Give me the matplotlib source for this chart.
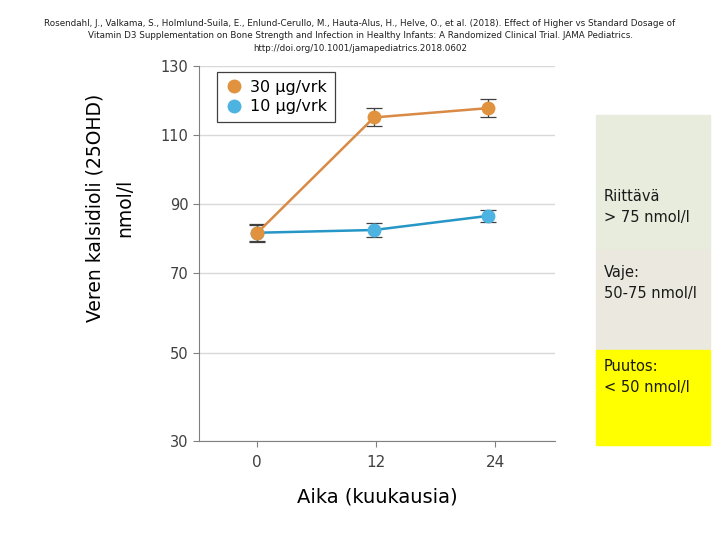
import numpy as np
import matplotlib
matplotlib.use("Agg")
import matplotlib.pyplot as plt
from matplotlib.patches import Rectangle
from matplotlib.lines import Line2D

# Data
months = [0, 11.8, 23.3]
dose30 = [81.5, 115.1, 117.8]
dose30_err = [2.5, 2.6, 2.5]
dose10 = [81.7, 82.5, 86.6]
dose10_err = [2.5, 1.9, 1.8]
series_labels = ["30 µg/vrk", "10 µg/vrk"]
yticks = [30, 50, 70, 90, 110, 130]
xticks = [0, 12, 24]

# Piecewise y-axis (lower part of the original chart is stretched)
scale_vals = [30, 50, 70, 130]
scale_pos = [0, 87.4, 167.4, 374.0]

def fwd(v):
    return np.interp(v, scale_vals, scale_pos)

def inv(p):
    return np.interp(p, scale_pos, scale_vals)

fig = plt.figure(figsize=(7.2, 5.4), dpi=100)
ax = fig.add_axes([199 / 720, 1 - 441 / 540, 356 / 720, 375 / 540])
ax.set_yscale("function", functions=(fwd, inv))
ax.set_ylim(30, 130.3)
ax.set_xlim(-5.8, 30)

orange = "#e0923f"
orange_line = "#d98a45"
blue = "#4db3e0"
blue_line = "#2596c6"

ax.errorbar(months, dose10, yerr=dose10_err, color=blue_line, lw=1.8,
            marker="o", ms=9, mfc=blue, mec=blue, ecolor="#404040",
            elinewidth=0.9, capsize=6, capthick=0.9, zorder=3)
ax.errorbar(months, dose30, yerr=dose30_err, color=orange_line, lw=1.8,
            marker="o", ms=9, mfc=orange, mec=orange, ecolor="#404040",
            elinewidth=0.9, capsize=6, capthick=0.9, zorder=4)

ax.set_yticks(yticks)
ax.set_xticks(xticks)
ax.grid(axis="y", color="#d9d9d9", lw=1)
ax.set_axisbelow(True)
for s in ["top", "right"]:
    ax.spines[s].set_visible(False)
ax.spines["left"].set_color("#808080")
ax.spines["bottom"].set_color("#808080")
ax.tick_params(axis="both", colors="#808080", labelcolor="#404040", length=4)
ax.tick_params(axis="y", labelsize=10.5)
ax.tick_params(axis="x", labelsize=11, pad=6)

handles = [Line2D([], [], ls="none", marker="o", ms=9, color=orange),
           Line2D([], [], ls="none", marker="o", ms=9, color=blue)]
leg = ax.legend(handles, series_labels, loc="upper left", bbox_to_anchor=(0.05, 0.985),
                borderaxespad=0, fancybox=False, framealpha=1, edgecolor="#404040",
                fontsize=11.5, handletextpad=0.4, borderpad=0.5, labelspacing=0.3,
                handlelength=1.2)
leg.get_frame().set_linewidth(0.9)

ax.set_xlabel("Aika (kuukausia)", fontsize=14, labelpad=13)

fig.text(95 / 720, 1 - 208 / 540, "Veren kalsidioli (25OHD)", rotation=90,
         ha="center", va="center", fontsize=13.5)
fig.text(125 / 720, 1 - 208 / 540, "nmol/l", rotation=90,
         ha="center", va="center", fontsize=13.5)

# Right-hand reference boxes
boxes = [(115, 250, "#e8ecdc"), (250, 350, "#ebe9df"), (350, 445, "#ffff00")]
for top, bot, col in boxes:
    fig.patches.append(Rectangle((596 / 720, 1 - bot / 540), 114 / 720, (bot - top) / 540,
                                 transform=fig.transFigure, color=col, zorder=0))
box_texts = [(207, "Riittävä\n> 75 nmol/l"), (283, "Vaje:\n50-75 nmol/l"),
             (377, "Puutos:\n< 50 nmol/l")]
for yc, txt in box_texts:
    fig.text(604 / 720, 1 - yc / 540, txt, ha="left", va="center", fontsize=10.5,
             linespacing=1.5, color="#1a1a1a")

ref = ("Rosendahl, J., Valkama, S., Holmlund-Suila, E., Enlund-Cerullo, M., Hauta-Alus, H., Helve, O., et al. (2018). Effect of Higher vs Standard Dosage of\n"
       "Vitamin D3 Supplementation on Bone Strength and Infection in Healthy Infants: A Randomized Clinical Trial. JAMA Pediatrics.\n"
       "http://doi.org/10.1001/jamapediatrics.2018.0602")
fig.text(0.5, 1 - 36 / 540, ref, ha="center", va="center", fontsize=6.3, linespacing=1.45,
         color="#202020")

fig.savefig("out.png", dpi=100)
